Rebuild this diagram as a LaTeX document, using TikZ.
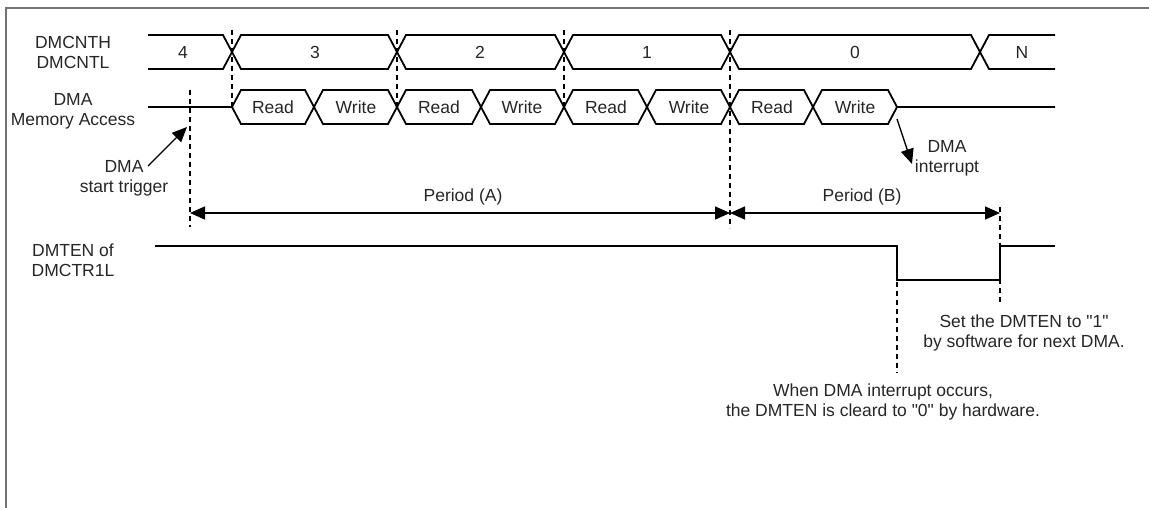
\documentclass[tikz,border=0pt]{standalone}
\usepackage{fontspec}
\setmainfont{Liberation Sans}[Ligatures=TeXOff]
\usetikzlibrary{arrows.meta}
\begin{document}
\begin{tikzpicture}[x=1pt,y=-1pt,
  sig/.style={line width=1.8pt, line join=miter},
  dsh/.style={line width=2pt, dash pattern=on 5pt off 4pt},
  ptr/.style={line width=1.4pt, -{Triangle[length=15pt,width=13pt]}},
  span/.style={line width=1.4pt, {Triangle[length=15pt,width=13pt]}-{Triangle[length=15pt,width=13pt]}},
  lbl/.style={font=\fontsize{17.5}{20}\selectfont, align=center, inner sep=0pt, text=black!85},
]
\useasboundingbox (0,0) rectangle (1149,508);
\draw[black!55, line width=2pt] (6,508) -- (6,8) -- (1149,8);

% DMCNT bus
\draw[sig] (148,35)--(223,35)--(241,69)--(388,69)--(406,35)--(555,35)--(573,69)--(721,69)--(739,35)--(971,35)--(989,69)--(1055,69);
\draw[sig] (148,69)--(223,69)--(241,35)--(388,35)--(406,69)--(555,69)--(573,35)--(721,35)--(739,69)--(971,69)--(989,35)--(1055,35);
\foreach \x/\t in {183/4, 315/3, 480/2, 647/1, 855/0, 1022/N}
  \node[lbl] (bus\t) at (\x,52) {\t};

% DMA memory access
\draw[sig] (148,107)--(232,107)--(241,90)--(305,90)--(323,124)--(388,124)--(406,90)--(472,90)--(490,124)--(555,124)--(573,90)--(638,90)--(656,124)--(721,124)--(739,90)--(804,90)--(822,124)--(888,124)--(897,107)--(1055,107);
\draw[sig] (232,107)--(241,124)--(305,124)--(323,90)--(388,90)--(406,124)--(472,124)--(490,90)--(555,90)--(573,124)--(638,124)--(656,90)--(721,90)--(739,124)--(804,124)--(822,90)--(888,90)--(897,107);
\foreach \x/\n in {273/1, 439/2, 606/3, 772/4}
  \node[lbl] (rd\n) at (\x,107) {Read};
\foreach \x/\n in {356/1, 522/2, 689/3, 855/4}
  \node[lbl] (wr\n) at (\x,107) {Write};

% DMTEN
\draw[sig] (155,246)--(897,246)--(897,280)--(1000,280)--(1000,246)--(1055,246);

% dashed markers
\draw[dsh] (190,90)--(190,227);
\draw[dsh] (232,30)--(232,107);
\draw[dsh] (397,30)--(397,107);
\draw[dsh] (564,30)--(564,107);
\draw[dsh] (730,30)--(730,228);
\draw[dsh] (897,246)--(897,373);
\draw[dsh] (1000,207)--(1000,305);

% row labels
\node[lbl] (lcnt) at (73,52) {DMCNTH\\DMCNTL};
\node[lbl] (lmem) at (73,111) {DMA\\Memory Access};
\node[lbl] (lten) at (73,260) {DMTEN of\\DMCTR1L};

% periods
\coordinate (pa) at (190,213);
\coordinate (pm) at (730,213);
\coordinate (pb) at (1000,213);
\draw[span] (pa) -- (pm);
\draw[span] (pm) -- (pb);
\node[lbl] (perA) at (463,197) {Period (A)};
\node[lbl] (perB) at (862,197) {Period (B)};

% annotations
\node[lbl] (trig) at (124,178) {DMA\\start trigger};
\coordinate (trigS) at (148,166);
\coordinate (trigE) at (187,127);
\draw[ptr] (trigS) -- (trigE);

\node[lbl] (intr) at (947,158) {DMA\\interrupt};
\coordinate (intS) at (897,119);
\coordinate (intE) at (912,164);
\draw[ptr] (intS) -- (intE);

\node[lbl] (setn) at (1024,333) {Set the DMTEN to "1"\\by software for next DMA.};
\node[lbl] (clrn) at (883,402) {When DMA interrupt occurs,\\the DMTEN is cleard to "0" by hardware.};
\end{tikzpicture}
\end{document}
